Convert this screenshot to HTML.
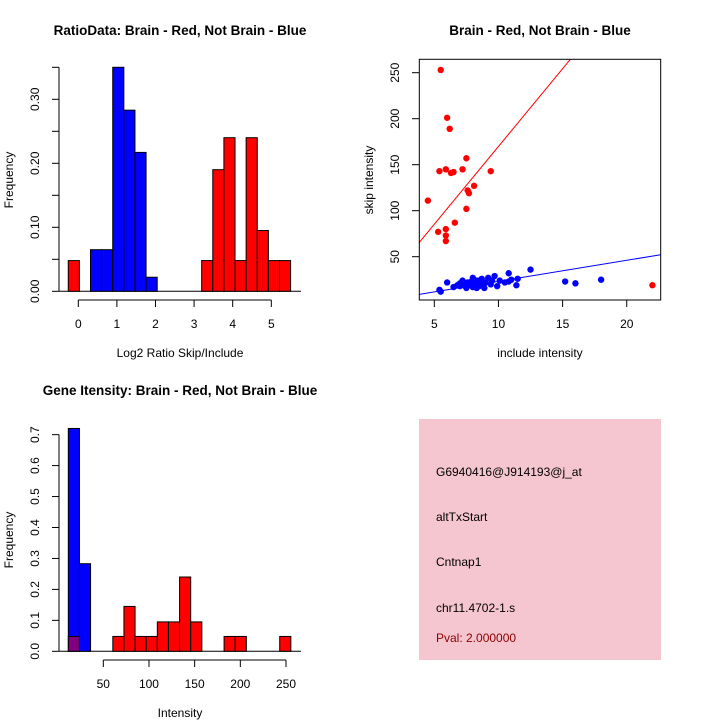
<!DOCTYPE html>
<html><head><meta charset="utf-8"><style>
body{margin:0;background:#fff;}
svg{display:block;font-family:"Liberation Sans",sans-serif;}
</style></head><body>
<svg id="c" width="720" height="720"></svg>
<script>
// Panel 1: log2 ratio histogram
const ratioBinStart = -0.26;
const ratioBinWidth = 0.288;
const ratioRed = [0.048,0,0,0,0,0,0,0,0,0,0,0,0.048,0.19,0.24,0.048,0.24,0.095,0.048,0.048];
const ratioBlue = [0,0,0.065,0.065,0.35,0.283,0.217,0.022,0,0,0,0,0,0,0,0,0,0,0,0];
const ratioXTicks = [0,1,2,3,4,5];
const ratioYTicks = [0,0.05,0.1,0.15,0.2,0.25,0.3,0.35];
const ratioYLabels = ["0.00","","0.10","","0.20","","0.30",""];
// Panel 2: scatter
const redInc = [5.5,6,6.2,7.5,5.4,5.9,6.3,6.5,7.2,9.4,7.6,7.7,8.1,4.5,7.5,6.6,5.3,5.9,5.9,5.9,22];
const redSkip = [253,201,189,157,143,145,141,142,145,143,122,119,127,111,102,87,77,80,73,67,19];
const blueInc = [5.4,5.5,6,6.5,7,7.2,7.3,7.5,7.6,7.8,8,8,8.2,8.4,8.5,8.7,8.9,9,9.2,9.4,9.7,9.9,10.1,10.8,10.8,11.4,11.5,12.5,15.2,16,18,7.0,7.4,7.9,8.3,8.6,9.5,11,10.5,6.8,8.1,7.7];
const blueSkip = [14,12,22,17,18,24,20,16,22,19,27,17,21,24,18,26,16,22,27,20,29,18,24,32,23,19,26,36,23,21,25,21,18,23,16,20,24,25,22,19,25,21];
const redFit = [0.8,16.9];
const blueFit = [0.3,2.29];
const scXTicks = [5,10,15,20];
const scYTicks = [50,100,150,200,250];
// Panel 3: intensity histogram
const intBinStart = 11.7;
const intBinWidth = 12.18;
const intRed = [0.048,0,0,0,0.048,0.145,0.048,0.048,0.095,0.095,0.24,0.095,0,0,0.048,0.048,0,0,0,0.048];
const intBlue = [0.72,0.283,0,0,0,0,0,0,0,0,0,0,0,0,0,0,0,0,0,0];
const intXTicks = [50,100,150,200,250];
const intYTicks = [0,0.1,0.2,0.3,0.4,0.5,0.6,0.7];
const infoLines = ["G6940416@J914193@j_at","altTxStart","Cntnap1","chr11.4702-1.s"];

const svg=document.getElementById('c');
const NS='http://www.w3.org/2000/svg';
function mk(tag,attrs,parent){const e=document.createElementNS(NS,tag);for(const k in attrs)e.setAttribute(k,attrs[k]);(parent||svg).appendChild(e);return e;}
function txt(s,attrs,parent){const e=mk('text',attrs,parent);e.textContent=s;return e;}

// ---------- Panel 1 ----------
{
const x=v=>78.3+(v-0)*38.6, y=v=>291.3-v*640;
const g=mk('g',{});


const t=txt('RatioData: Brain - Red, Not Brain - Blue',{x:180,y:35,'text-anchor':'middle','font-size':13.5,'font-weight':'bold'},g);

mk('line',{x1:59,y1:291.3,x2:301,y2:291.3,stroke:'#000'},g);
for(let i=0;i<ratioRed.length;i++){
  const x0=x(ratioBinStart+i*ratioBinWidth),x1=x(ratioBinStart+(i+1)*ratioBinWidth);
  if(ratioRed[i]>0){const r=mk('rect',{x:x0,y:y(ratioRed[i]),width:x1-x0,height:y(0)-y(ratioRed[i]),fill:'#f00',stroke:'#000'},g);
    }
  if(ratioBlue[i]>0){const r=mk('rect',{x:x0,y:y(ratioBlue[i]),width:x1-x0,height:y(0)-y(ratioBlue[i]),fill:'#00f',stroke:'#000'},g);
    }
}
mk('line',{x1:59,y1:y(0),x2:59,y2:y(0.35),stroke:'#000'},g);
ratioYTicks.forEach((v,i)=>{mk('line',{x1:52,y1:y(v),x2:59,y2:y(v),stroke:'#000'},g);
  if(ratioYLabels[i]){txt(ratioYLabels[i],{x:39,y:y(v),'font-size':12,'text-anchor':'middle',transform:`rotate(-90 39 ${y(v)})`},g);}});
mk('line',{x1:x(0),y1:300,x2:x(5),y2:300,stroke:'#000'},g);
ratioXTicks.forEach(v=>{mk('line',{x1:x(v),y1:300,x2:x(v),y2:307,stroke:'#000'},g);txt(String(v),{x:x(v),y:328,'font-size':12,'text-anchor':'middle'},g);});
const xl=txt('Log2 Ratio Skip/Include',{x:180,y:357,'font-size':12,'text-anchor':'middle'},g);

const yl=txt('Frequency',{x:13,y:180,'font-size':12,'text-anchor':'middle',transform:'rotate(-90 13 180)'},g);

}

// ---------- Panel 2 ----------
{
const x=v=>434.3+(v-5)*12.83, y=v=>256.7-(v-50)*0.92;
const g=mk('g',{});


const t=txt('Brain - Red, Not Brain - Blue',{x:540,y:35,'text-anchor':'middle','font-size':13.5,'font-weight':'bold'},g);

const cp=mk('clipPath',{id:'sc'},g);mk('rect',{x:419.3,y:59.3,width:241.4,height:240.7},cp);
const x0=(419.3-434.3)/12.83+5, x1=(660.7-434.3)/12.83+5;
mk('line',{x1:x(x0),y1:y(redFit[0]+redFit[1]*x0),x2:x(x1),y2:y(redFit[0]+redFit[1]*x1),stroke:'#f00','clip-path':'url(#sc)'},g);
mk('line',{x1:x(x0),y1:y(blueFit[0]+blueFit[1]*x0),x2:x(x1),y2:y(blueFit[0]+blueFit[1]*x1),stroke:'#00f','clip-path':'url(#sc)'},g);
redInc.forEach((v,i)=>{const c=mk('circle',{cx:x(v),cy:y(redSkip[i]),r:3.2,fill:'#f00'},g);
  });
blueInc.forEach((v,i)=>{const c=mk('circle',{cx:x(v),cy:y(blueSkip[i]),r:3.2,fill:'#00f'},g);
  });
mk('rect',{x:419.3,y:59.3,width:241.4,height:240.7,fill:'none',stroke:'#000'},g);
scXTicks.forEach(v=>{mk('line',{x1:x(v),y1:300,x2:x(v),y2:307,stroke:'#000'},g);txt(String(v),{x:x(v),y:328,'font-size':12,'text-anchor':'middle'},g);});
scYTicks.forEach(v=>{mk('line',{x1:412,y1:y(v),x2:419.3,y2:y(v),stroke:'#000'},g);txt(String(v),{x:399,y:y(v),'font-size':12,'text-anchor':'middle',transform:`rotate(-90 399 ${y(v)})`},g);});
const xl=txt('include intensity',{x:540,y:357,'font-size':12,'text-anchor':'middle'},g);

const yl=txt('skip intensity',{x:373,y:180,'font-size':12,'text-anchor':'middle',transform:'rotate(-90 373 180)'},g);

}

// ---------- Panel 3 ----------
{
const x=v=>103.3+(v-50)*0.9135, y=v=>651.3-v*309.5;
const g=mk('g',{});


const t=txt('Gene Itensity: Brain - Red, Not Brain - Blue',{x:180,y:395,'text-anchor':'middle','font-size':13.5,'font-weight':'bold'},g);

mk('line',{x1:59,y1:651.3,x2:301,y2:651.3,stroke:'#000'},g);
for(let i=0;i<intRed.length;i++){
  const a=x(intBinStart+i*intBinWidth),b=x(intBinStart+(i+1)*intBinWidth);
  if(intBlue[i]>0){const r=mk('rect',{x:a,y:y(intBlue[i]),width:b-a,height:y(0)-y(intBlue[i]),fill:'#00f',stroke:'#000'},g);
    }
  if(intRed[i]>0){const fill=intBlue[i]>0?'#800080':'#f00';
    const r=mk('rect',{x:a,y:y(intRed[i]),width:b-a,height:y(0)-y(intRed[i]),fill:fill,stroke:'#000'},g);
    }
}
mk('line',{x1:59,y1:y(0),x2:59,y2:y(0.7),stroke:'#000'},g);
intYTicks.forEach(v=>{mk('line',{x1:52,y1:y(v),x2:59,y2:y(v),stroke:'#000'},g);txt(v.toFixed(1),{x:39,y:y(v),'font-size':12,'text-anchor':'middle',transform:`rotate(-90 39 ${y(v)})`},g);});
mk('line',{x1:x(50),y1:660,x2:x(250),y2:660,stroke:'#000'},g);
intXTicks.forEach(v=>{mk('line',{x1:x(v),y1:660,x2:x(v),y2:667,stroke:'#000'},g);txt(String(v),{x:x(v),y:688,'font-size':12,'text-anchor':'middle'},g);});
const xl=txt('Intensity',{x:180,y:717,'font-size':12,'text-anchor':'middle'},g);

const yl=txt('Frequency',{x:13,y:540,'font-size':12,'text-anchor':'middle',transform:'rotate(-90 13 540)'},g);

}

// ---------- Panel 4 ----------
{
const g=mk('g',{});


mk('rect',{x:419,y:419,width:242,height:241,fill:'#f5c6d0'},g);
const ys=[476,521,566,612];
infoLines.forEach((s,i)=>{const t=txt(s,{x:436,y:ys[i],'font-size':12},g);
  });
const p=txt('Pval: 2.000000',{x:436,y:642,'font-size':12,fill:'#8b0000'},g);

}
</script>
</body></html>
